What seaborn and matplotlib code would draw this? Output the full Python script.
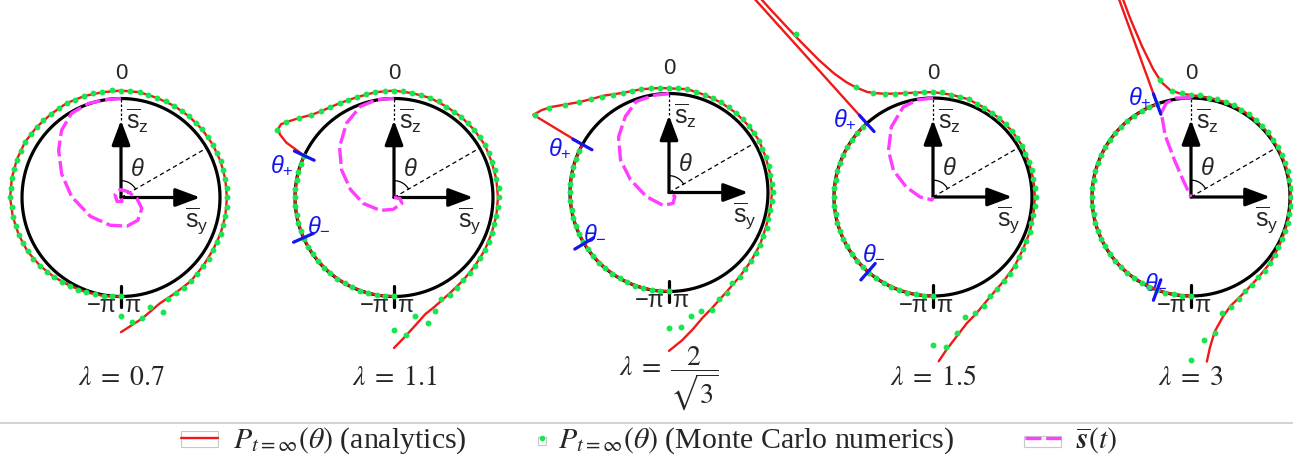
import numpy as np
import matplotlib.pyplot as plt
import seaborn as sns
from matplotlib.lines import Line2D
from matplotlib.patches import Rectangle

# ------------------------------- dados -------------------------------
# angulos em graus (0 = topo, sentido horario), raio 1 = circulo
lambda_labels = [r'$\lambda\;=\;0.7$', r'$\lambda\;=\;1.1$', r'$\lambda\;=\;\dfrac{2}{\sqrt{3}}$',
                 r'$\lambda\;=\;1.5$', r'$\lambda\;=\;3$']

p1_theta = [-180, -170, -160, -150, -140, -130, -120, -110, -100, -90, -80, -70, -60, -50, -40, -30,
            -20, -10, 0, 10, 20, 30, 40, 50, 60, 70, 80, 90, 100, 110, 120, 130, 140, 150, 160, 170, 180]
p1_r = [1.00, 1.01, 1.02, 1.03, 1.05, 1.07, 1.09, 1.10, 1.11, 1.12, 1.12, 1.12, 1.12, 1.11, 1.10, 1.10,
        1.09, 1.08, 1.08, 1.08, 1.07, 1.07, 1.07, 1.07, 1.07, 1.07, 1.07, 1.07, 1.07, 1.07, 1.07, 1.08,
        1.10, 1.11, 1.14, 1.24, 1.36]

p2_theta = [-180, -170, -160, -150, -140, -130, -120, -110, -100, -90, -80, -70, -65, -64, -63, -61,
            -59, -57, -54, -50, -45, -40, -30, -20, -10, 0, 10, 20, 30, 40, 50, 60, 70, 80, 90, 100,
            110, 120, 130, 140, 150, 160, 165, 170, 175, 180]
p2_r = [1.00, 1.00, 1.00, 1.00, 1.00, 1.00, 1.00, 1.00, 1.00, 1.00, 1.00, 1.00, 1.00, 1.10, 1.22, 1.32,
        1.36, 1.36, 1.31, 1.25, 1.18, 1.14, 1.10, 1.08, 1.08, 1.08, 1.07, 1.07, 1.06, 1.06, 1.06, 1.06,
        1.05, 1.05, 1.05, 1.05, 1.05, 1.06, 1.07, 1.09, 1.12, 1.18, 1.22, 1.30, 1.40, 1.52]

p3_theta = [-180, -170, -160, -150, -140, -130, -120, -110, -100, -90, -80, -70, -61, -60.2, -57, -54,
            -50, -45, -40, -34, -25, -15, -5, 10, 20, 30, 40, 50, 60, 70, 80, 90, 100, 110, 120, 130,
            140, 150, 160, 165, 170, 175, 180]
p3_r = [1.00, 1.00, 1.00, 1.00, 1.00, 1.00, 1.00, 1.00, 1.00, 1.00, 1.00, 1.00, 1.00, 1.58, 1.53, 1.47,
        1.38, 1.29, 1.23, 1.18, 1.11, 1.08, 1.06, 1.06, 1.05, 1.05, 1.05, 1.05, 1.05, 1.04, 1.04, 1.04,
        1.04, 1.04, 1.06, 1.08, 1.11, 1.16, 1.25, 1.31, 1.40, 1.50, 1.60]

p4_theta = [-180, -170, -160, -150, -140, -130, -120, -110, -100, -90, -80, -70, -60, -50, -42, -42,
            -41.2, -40.9, -40.5, -39.8, -38.7, -37, -35, -32, -29, -25, -18, -10, 0, 10, 20, 30, 40,
            50, 60, 70, 80, 90, 100, 110, 120, 130, 140, 150, 160, 165, 170, 175, 178]
p4_r = [1.00, 1.00, 1.00, 1.00, 1.00, 1.00, 1.00, 1.00, 1.00, 1.00, 1.00, 1.00, 1.00, 1.00, 1.00, 3.30,
        3.30, 2.50, 2.10, 1.80, 1.60, 1.45, 1.35, 1.25, 1.20, 1.15, 1.10, 1.07, 1.06, 1.05, 1.05, 1.04,
        1.04, 1.04, 1.04, 1.03, 1.03, 1.03, 1.03, 1.04, 1.05, 1.08, 1.11, 1.16, 1.26, 1.32, 1.42, 1.55,
        1.66]

p5_theta = [-180, -170, -160, -150, -140, -130, -120, -110, -100, -90, -80, -70, -60, -50, -40, -30,
            -20, -20, -19.3, -18.8, -18, -16.5, -14.5, -11, -6, 0, 10, 20, 30, 40, 50, 60, 70, 80, 90,
            100, 110, 120, 130, 140, 150, 155, 160, 165, 170, 172.8, 174.5]
p5_r = [1.00, 1.00, 1.00, 1.00, 1.00, 1.00, 1.00, 1.00, 1.00, 1.00, 1.00, 1.00, 1.00, 1.00, 1.00, 1.00,
        1.00, 2.60, 2.60, 1.90, 1.60, 1.35, 1.20, 1.10, 1.05, 1.03, 1.02, 1.02, 1.02, 1.015, 1.015, 1.01,
        1.01, 1.01, 1.01, 1.01, 1.01, 1.02, 1.04, 1.06, 1.10, 1.13, 1.17, 1.25, 1.38, 1.53, 1.67]

# Monte Carlo: um ponto a cada 5 graus, de -180 a 180
mc_theta = np.arange(-180, 181, 5)
mc1 = [1.00, 1.00, 1.01, 1.01, 1.02, 1.03, 1.03, 1.04, 1.05, 1.06, 1.07, 1.08,
       1.09, 1.09, 1.10, 1.10, 1.11, 1.11, 1.12, 1.12, 1.12, 1.12, 1.12, 1.12,
       1.12, 1.11, 1.11, 1.11, 1.10, 1.10, 1.10, 1.09, 1.09, 1.09, 1.08, 1.09,
       1.08, 1.08, 1.08, 1.07, 1.07, 1.07, 1.07, 1.07, 1.07, 1.07, 1.07, 1.07,
       1.07, 1.07, 1.07, 1.07, 1.07, 1.07, 1.07, 1.07, 1.07, 1.07, 1.07, 1.07,
       1.07, 1.08, 1.08, 1.09, 1.10, 1.11, 1.11, 1.13, 1.23, 1.14, 1.24, 1.26,
       1.20]
mc2 = [1.00, 1.00, 1.00, 1.00, 1.00, 1.00, 1.00, 1.00, 1.00, 1.00, 1.00, 1.00,
       1.00, 1.00, 1.00, 1.00, 1.00, 1.00, 1.00, 1.00, 1.00, 1.00, 1.00, 1.00,
       1.36, 1.33, 1.25, 1.18, 1.14, 1.12, 1.10, 1.09, 1.08, 1.08, 1.08, 1.08,
       1.08, 1.08, 1.07, 1.07, 1.07, 1.07, 1.06, 1.06, 1.06, 1.06, 1.06, 1.06,
       1.06, 1.06, 1.05, 1.06, 1.05, 1.06, 1.06, 1.05, 1.05, 1.05, 1.05, 1.06,
       1.06, 1.06, 1.07, 1.08, 1.09, 1.11, 1.14, 1.13, 1.22, 1.31, 1.22, 1.39,
       1.34]
mc3 = [1.00, 1.00, 1.00, 1.00, 1.00, 1.00, 1.00, 1.00, 1.00, 1.00, 1.00, 1.00,
       1.00, 1.00, 1.00, 1.00, 1.00, 1.00, 1.00, 1.00, 1.00, 1.00, 1.00, 1.00,
       1.56, 1.48, 1.37, 1.29, 1.23, 1.18, 1.14, 1.11, 1.09, 1.08, 1.07, 1.06,
       1.06, 1.06, 1.06, 1.05, 1.05, 1.05, 1.05, 1.05, 1.05, 1.05, 1.05, 1.05,
       1.05, 1.04, 1.04, 1.05, 1.04, 1.04, 1.05, 1.04, 1.04, 1.04, 1.05, 1.05,
       1.06, 1.07, 1.08, 1.09, 1.12, 1.11, 1.17, 1.19, 1.26, 1.24, 1.27, 1.36,
       1.37]
mc4 = [1.00, 1.00, 1.00, 1.00, 1.00, 1.00, 1.00, 1.00, 1.00, 1.00, 1.00, 1.00,
       1.00, 1.00, 1.00, 1.00, 1.00, 1.00, 1.00, 1.00, 1.00, 1.00, 1.00, 1.00,
       1.00, 1.00, 1.00, 1.00, 2.15, 1.36, 1.21, 1.15, 1.11, 1.09, 1.07, 1.06,
       1.06, 1.06, 1.05, 1.05, 1.05, 1.04, 1.04, 1.04, 1.04, 1.04, 1.04, 1.04,
       1.04, 1.03, 1.03, 1.04, 1.03, 1.03, 1.04, 1.03, 1.03, 1.03, 1.04, 1.04,
       1.05, 1.06, 1.08, 1.10, 1.11, 1.13, 1.16, 1.22, 1.25, 1.26, 1.40, 1.52,
       1.49]
mc5 = [1.00, 1.00, 1.00, 1.00, 1.00, 1.00, 1.00, 1.00, 1.00, 1.00, 1.00, 1.00,
       1.00, 1.00, 1.00, 1.00, 1.00, 1.00, 1.00, 1.00, 1.00, 1.00, 1.00, 1.00,
       1.00, 1.00, 1.00, 1.00, 1.00, 1.00, 1.00, 1.00, 1.00, 1.22, 1.09, 1.05,
       1.03, 1.03, 1.02, 1.02, 1.02, 1.02, 1.02, 1.02, 1.02, 1.01, 1.02, 1.01,
       1.01, 1.01, 1.01, 1.01, 1.01, 1.01, 1.01, 1.01, 1.01, 1.01, 1.01, 1.01,
       1.02, 1.03, 1.04, 1.05, 1.06, 1.08, 1.10, 1.14, 1.18, 1.21, 1.40, 1.45,
       1.65]

# trajetoria media s(t) em coordenadas (s_y, s_z)
s1_y = [0.00, -0.14, -0.33, -0.50, -0.60, -0.63, -0.60, -0.50, -0.31, -0.11, 0.06, 0.17, 0.21, 0.16,
        0.07, -0.01, -0.06, -0.04, 0.01, 0.00]
s1_z = [1.00, 0.99, 0.95, 0.85, 0.68, 0.48, 0.24, 0.01, -0.19, -0.28, -0.29, -0.23, -0.11, -0.01,
        0.06, 0.08, 0.03, -0.04, -0.04, 0.00]
s2_y = [0.00, -0.17, -0.34, -0.48, -0.55, -0.53, -0.44, -0.31, -0.14, -0.01, 0.08, 0.06, 0.00]
s2_z = [1.00, 0.99, 0.92, 0.75, 0.51, 0.28, 0.08, -0.06, -0.13, -0.12, -0.06, -0.01, 0.00]
s3_y = [0.00, -0.16, -0.33, -0.44, -0.51, -0.49, -0.39, -0.23, -0.06, 0.04, 0.06, 0.00]
s3_z = [1.00, 0.98, 0.92, 0.77, 0.56, 0.33, 0.13, -0.04, -0.13, -0.11, -0.04, 0.00]
s4_y = [0.00, -0.16, -0.30, -0.42, -0.45, -0.40, -0.27, -0.13, -0.01, 0.00]
s4_z = [1.00, 0.98, 0.91, 0.71, 0.47, 0.27, 0.10, 0.00, -0.03, 0.00]
s5_y = [0.00, -0.15, -0.25, -0.30, -0.26, -0.17, -0.08, 0.00]
s5_z = [1.00, 1.00, 0.95, 0.85, 0.62, 0.38, 0.17, 0.00]

theta_plus = [None, -65, -61, -42, -20]
theta_minus = [None, -114, -121, -139, -160]

red_theta = [p1_theta, p2_theta, p3_theta, p4_theta, p5_theta]
red_r = [p1_r, p2_r, p3_r, p4_r, p5_r]
mc_r = [mc1, mc2, mc3, mc4, mc5]
s_y = [s1_y, s2_y, s3_y, s4_y, s5_y]
s_z = [s1_z, s2_z, s3_z, s4_z, s5_z]

# ------------------------------- layout -------------------------------
W, H = 1293, 458
R_PX = 99
RMAX = 3.4
centro_x = [121, 394, 669, 933, 1191]
centro_y = [197.5, 197.5, 192.5, 197, 197]
plus_lbl = [None, (-1.13, 0.33), (-1.10, 0.45), (-0.89, 0.79), (-0.52, 1.01)]
minus_lbl = [None, (-0.76, -0.28), (-0.75, -0.41), (-0.60, -0.57), (-0.36, -0.86)]

RED = '#f01818'
GREEN = '#18e650'
MAG = '#ff3cff'
BLUE = '#1414f0'
DASH = (0, (4.8, 1.4))

sns.set_style("white")
plt.rcParams['font.family'] = ['Liberation Sans', 'DejaVu Sans']
plt.rcParams['mathtext.fontset'] = 'custom'
plt.rcParams['mathtext.rm'] = 'Liberation Sans'
plt.rcParams['mathtext.it'] = 'Liberation Sans:italic'
plt.rcParams['mathtext.bf'] = 'Liberation Sans:bold'


def polar(y, z):
    y = np.asarray(y, dtype=float)
    z = np.asarray(z, dtype=float)
    return np.unwrap(np.arctan2(y, z)), np.hypot(y, z)


def rotulo(ax, y, z, s, **kw):
    th, r = polar([y], [z])
    ax.text(th[0], r[0], s, **kw)


fig = plt.figure(figsize=(W / 100, H / 100), dpi=100)
half = RMAX * R_PX
for i in range(5):
    cx, cy = centro_x[i], centro_y[i]
    ax = fig.add_axes([(cx - half) / W, (H - cy - half) / H, 2 * half / W, 2 * half / H],
                      projection='polar')
    ax.set_theta_zero_location('N')
    ax.set_theta_direction(-1)

    circ = np.linspace(-np.pi, np.pi, 361)
    ax.plot(circ, np.ones_like(circ), color='k', lw=2.3, zorder=2)
    ax.plot([np.pi, np.pi], [0.89, 1.11], color='k', lw=2.3, zorder=2)

    # linhas de referencia
    ax.plot([0, 0], [0.78, 1.0], color='k', lw=0.9, ls=(0, (2, 1.6)), zorder=2)
    ax.plot([np.pi / 3, np.pi / 3], [0, 1.0], color='k', lw=0.9, ls=(0, (3.5, 2.5)), zorder=2)
    arco = np.linspace(0, np.pi / 3, 30)
    ax.plot(arco, np.full_like(arco, 0.17), color='k', lw=0.9, zorder=2)
    seta = dict(arrowstyle='-|>,head_length=0.75,head_width=0.28', color='k', lw=2.3,
                mutation_scale=20, shrinkA=0, shrinkB=0)
    ax.annotate('', xy=(0, 0.78), xytext=(0, 0), arrowprops=seta, zorder=3)
    ax.annotate('', xy=(np.pi / 2, 0.80), xytext=(0, 0), arrowprops=seta, zorder=3)

    # distribuicao analitica e Monte Carlo
    sns.lineplot(x=np.deg2rad(red_theta[i]), y=red_r[i], sort=False, estimator=None,
                 color=RED, linewidth=1.7, ax=ax, zorder=4)
    sns.scatterplot(x=np.deg2rad(mc_theta), y=mc_r[i], color=GREEN, s=18, linewidth=0,
                    ax=ax, zorder=5)

    # trajetoria media
    th_s, r_s = polar(s_y[i], s_z[i])
    sns.lineplot(x=th_s, y=r_s, sort=False, estimator=None, color=MAG, linewidth=2.4,
                 linestyle=DASH, ax=ax, zorder=6)

    if theta_plus[i] is not None:
        for ang in (theta_plus[i], theta_minus[i]):
            a = np.deg2rad(ang)
            ax.plot([a, a], [0.89, 1.11], color=BLUE, lw=2.3, zorder=7)
        rotulo(ax, *plus_lbl[i], r'$\theta_{+}$', color=BLUE, fontsize=17, ha='center', va='center')
        rotulo(ax, *minus_lbl[i], r'$\theta_{-}$', color=BLUE, fontsize=17, ha='center', va='center')

    rotulo(ax, 0.0, 1.25, '0', fontsize=16, ha='center', va='center')
    rotulo(ax, -0.04, -1.10, '\u2212\u03c0', fontsize=17, ha='right', va='center')
    rotulo(ax, 0.03, -1.10, '\u03c0', fontsize=17, ha='left', va='center')
    rotulo(ax, 0.05, 0.77, r'$\overline{\mathrm{s}}_{\mathrm{z}}$', fontsize=18, ha='left', va='center')
    rotulo(ax, 0.65, -0.23, r'$\overline{\mathrm{s}}_{\mathrm{y}}$', fontsize=18, ha='left', va='center')
    rotulo(ax, 0.165, 0.28, r'$\theta$', fontsize=17, ha='center', va='center')

    ax.set_ylim(0, RMAX)
    ax.axis('off')

    fig.text(cx / W, 1 - 378 / H, lambda_labels[i], ha='center', va='center', fontsize=20,
             math_fontfamily='stix')

# ------------------------------- legenda -------------------------------
fig.add_artist(Line2D([0, 1], [1 - 422.5 / H] * 2, transform=fig.transFigure, color='#cccccc', lw=1.2))
handles = [Line2D([], [], color=RED, lw=1.7),
           Line2D([], [], ls='', marker='o', ms=4, mfc=GREEN, mec='none'),
           Line2D([], [], color=MAG, lw=2.4, ls=DASH)]
labels = [r'$P_{t=\infty}(\theta)$ (analytics)',
          r'$P_{t=\infty}(\theta)$ (Monte Carlo numerics)',
          r'$\overline{\boldsymbol{s}}(t)$']
leg_x = [181, 538, 1025]
hlen = [1.25, 0.27, 1.2]
hpad = [0.5, 0.4, 0.5]
for h, lab, x, hl, hp in zip(handles, labels, leg_x, hlen, hpad):
    fig.legend([h], [lab], loc='center left', bbox_to_anchor=(x / W, 1 - 441 / H), frameon=False,
               borderpad=0, borderaxespad=0, handlelength=hl, handletextpad=hp,
               prop={'family': 'Liberation Serif', 'size': 21.5, 'math_fontfamily': 'stix'})
for (x0, y0, w, h) in [(181, 431, 37, 16), (538, 437, 8, 8), (1024, 436, 37, 11)]:
    fig.add_artist(Rectangle((x0 / W, 1 - (y0 + h) / H), w / W, h / H, transform=fig.transFigure,
                             fill=False, ec='#c8c8c8', lw=0.8))

fig.savefig('out.png', dpi=100)
